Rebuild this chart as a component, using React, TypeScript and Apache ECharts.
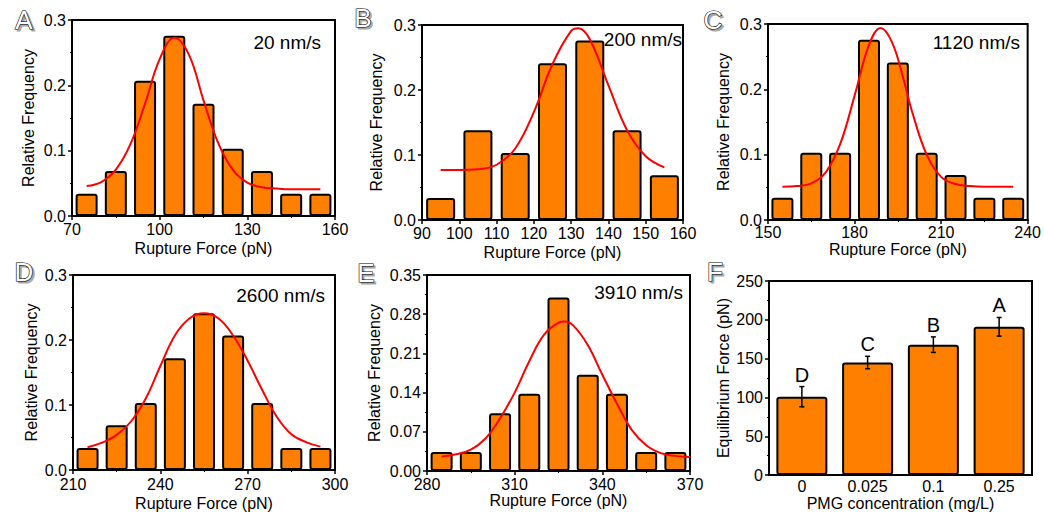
import React, { useEffect, useRef } from "react";
import * as echarts from "echarts";

const FONT = "'Liberation Sans', Arial, Helvetica, sans-serif";

// Panel A – 20 nm/s
const binsA = [75, 85, 95, 105, 115, 125, 135, 145, 155];
const freqA = [0.034, 0.069, 0.207, 0.276, 0.172, 0.103, 0.069, 0.034, 0.034];
const fitXA = [75, 80, 85, 90, 95, 100, 105, 110, 115, 120, 125, 130, 135, 140, 145, 150, 155];
const fitYA = [0.046, 0.052, 0.071, 0.11, 0.172, 0.24, 0.273, 0.247, 0.177, 0.112, 0.071, 0.051, 0.044, 0.042, 0.041, 0.041, 0.041];

// Panel B – 200 nm/s
const binsB = [95, 105, 115, 125, 135, 145, 155];
const freqB = [0.034, 0.138, 0.103, 0.241, 0.276, 0.138, 0.069];
const fitXB = [95, 100, 105, 110, 115, 120, 125, 130, 132, 135, 140, 145, 150, 155];
const fitYB = [0.077, 0.077, 0.078, 0.085, 0.11, 0.166, 0.24, 0.291, 0.295, 0.278, 0.207, 0.138, 0.098, 0.081];

// Panel C – 1120 nm/s
const binsC = [155, 165, 175, 185, 195, 205, 215, 225, 235];
const freqC = [0.034, 0.103, 0.103, 0.276, 0.241, 0.103, 0.069, 0.034, 0.034];
const fitXC = [155, 160, 165, 170, 175, 180, 185, 189, 193, 197, 200, 205, 210, 215, 220, 225, 230, 235];
const fitYC = [0.051, 0.052, 0.056, 0.073, 0.116, 0.19, 0.268, 0.294, 0.272, 0.215, 0.165, 0.1, 0.066, 0.055, 0.052, 0.051, 0.051, 0.051];

// Panel D – 2600 nm/s
const binsD = [215, 225, 235, 245, 255, 265, 275, 285, 295];
const freqD = [0.034, 0.069, 0.103, 0.172, 0.241, 0.207, 0.103, 0.034, 0.034];
const fitXD = [215, 220, 225, 230, 235, 240, 245, 250, 255, 260, 265, 270, 275, 280, 285, 290, 295];
const fitYD = [0.035, 0.042, 0.054, 0.075, 0.11, 0.16, 0.207, 0.233, 0.241, 0.233, 0.207, 0.168, 0.123, 0.082, 0.055, 0.043, 0.036];

// Panel E – 3910 nm/s
const binsE = [285, 295, 305, 315, 325, 335, 345, 355, 365];
const freqE = [0.034, 0.034, 0.103, 0.138, 0.31, 0.172, 0.138, 0.034, 0.034];
const fitXE = [285, 290, 295, 300, 305, 310, 315, 320, 325, 327, 330, 335, 340, 345, 350, 355, 360, 365, 370];
const fitYE = [0.026, 0.03, 0.038, 0.058, 0.094, 0.14, 0.196, 0.243, 0.265, 0.267, 0.26, 0.225, 0.172, 0.12, 0.074, 0.046, 0.032, 0.027, 0.025];

// Panel F – equilibrium force
const concLabels = ["0", "0.025", "0.1", "0.25"];
const eqForce = [101, 145, 168, 191];
const eqErr = [13, 8, 10, 12];
const sigLetters = ["D", "C", "B", "A"];

const panels = [
  { grid: { left: 72, top: 20, width: 263, height: 196 }, min: 70, max: 160, step: 30, yMax: 0.3, yStep: 0.1, dec: 1,
    bins: binsA, freq: freqA, fx: fitXA, fy: fitYA, bw: 22, lm: 5, ng: 24, yng: 36, minorX: true },
  { grid: { left: 422, top: 25, width: 261, height: 195 }, min: 90, max: 160, step: 10, yMax: 0.3, yStep: 0.1, dec: 1,
    bins: binsB, freq: freqB, fx: fitXB, fy: fitYB, bw: 29, lm: 5, ng: 24, yng: 38, minorX: false },
  { grid: { left: 768, top: 24, width: 263, height: 196 }, min: 150, max: 240, step: 30, yMax: 0.3, yStep: 0.1, dec: 1,
    bins: binsC, freq: freqC, fx: fitXC, fy: fitYC, bw: 22, lm: 4, ng: 21, yng: 37, minorX: true },
  { grid: { left: 73, top: 275, width: 262, height: 196 }, min: 210, max: 300, step: 30, yMax: 0.3, yStep: 0.1, dec: 1,
    bins: binsD, freq: freqD, fx: fitXD, fy: fitYD, bw: 22, lm: 6, ng: 25, yng: 34, minorX: true },
  { grid: { left: 427, top: 275, width: 263, height: 196 }, min: 280, max: 370, step: 30, yMax: 0.35, yStep: 0.07, dec: 2,
    bins: binsE, freq: freqE, fx: fitXE, fy: fitYE, bw: 22, lm: 5, ng: 13, yng: 45, minorX: true },
];

const panelLetters = [
  { t: "A", x: 24, y: 20 },
  { t: "B", x: 363, y: 18 },
  { t: "C", x: 713, y: 20 },
  { t: "D", x: 24, y: 272 },
  { t: "E", x: 366, y: 273 },
  { t: "F", x: 715, y: 272 },
];

const speedLabels = [
  { t: "20 nm/s", x: 321, y: 42 },
  { t: "200 nm/s", x: 682, y: 39 },
  { t: "1120 nm/s", x: 1020, y: 42 },
  { t: "2600 nm/s", x: 325, y: 295 },
  { t: "3910 nm/s", x: 683, y: 292 },
];

const axisLine = { show: true, lineStyle: { color: "#000", width: 2 } };
const tickStyle = { show: true, length: 4, lineStyle: { color: "#000", width: 1.5 } };
const minorStyle = { show: true, splitNumber: 2, length: 2, lineStyle: { color: "#000", width: 1 } };
const FS = 16;

export default function App() {
  const ref = useRef<HTMLDivElement>(null);

  useEffect(() => {
    if (!ref.current) return;
    const chart = echarts.init(ref.current, undefined, { renderer: "svg" });

    const grids: any[] = [];
    const xAxes: any[] = [];
    const yAxes: any[] = [];
    const series: any[] = [];

    panels.forEach((p, i) => {
      grids.push({ ...p.grid, show: true, borderColor: "#000", borderWidth: 2, backgroundColor: "transparent" });
      xAxes.push({
        type: "value", gridIndex: i, min: p.min, max: p.max, interval: p.step,
        name: "Rupture Force (pN)", nameLocation: "middle", nameGap: p.ng,
        nameTextStyle: { fontFamily: FONT, fontSize: FS, color: "#000" },
        axisLine, axisTick: tickStyle, minorTick: { ...minorStyle, show: p.minorX },
        splitLine: { show: false },
        axisLabel: { fontFamily: FONT, fontSize: FS, color: "#000", margin: p.lm },
      });
      yAxes.push({
        type: "value", gridIndex: i, min: 0, max: p.yMax, interval: p.yStep,
        name: "Relative Frequency", nameLocation: "middle", nameGap: p.yng,
        nameTextStyle: { fontFamily: FONT, fontSize: FS, color: "#000" },
        axisLine, axisTick: tickStyle, minorTick: minorStyle,
        splitLine: { show: false },
        axisLabel: { fontFamily: FONT, fontSize: FS, color: "#000", margin: 6,
          formatter: (v: number) => v.toFixed(p.dec) },
      });
      series.push({
        type: "bar", xAxisIndex: i, yAxisIndex: i, barWidth: p.bw,
        data: p.bins.map((x, j) => [x, p.freq[j]]),
        itemStyle: { color: "#FF8000", borderColor: "#000", borderWidth: 2, borderRadius: 2 },
        z: 2,
      });
      series.push({
        type: "line", xAxisIndex: i, yAxisIndex: i, smooth: 0.4, showSymbol: false, symbol: "none",
        data: p.fx.map((x, j) => [x, p.fy[j]]),
        lineStyle: { color: "#FF0000", width: 2 },
        z: 3,
      });
    });

    // Panel F
    const fi = panels.length;
    grids.push({ left: 769, top: 281, width: 263, height: 196, show: true, borderColor: "#000", borderWidth: 2 });
    xAxes.push({
      type: "category", gridIndex: fi, data: concLabels,
      name: "PMG concentration (mg/L)", nameLocation: "middle", nameGap: 18,
      nameTextStyle: { fontFamily: FONT, fontSize: FS, color: "#000" },
      axisLine, axisTick: { show: false },
      axisLabel: { fontFamily: FONT, fontSize: FS, color: "#000", margin: 3 },
    });
    yAxes.push({
      type: "value", gridIndex: fi, min: 0, max: 250, interval: 50,
      name: "Equilibrium Force (pN)", nameLocation: "middle", nameGap: 38,
      nameTextStyle: { fontFamily: FONT, fontSize: FS, color: "#000" },
      axisLine, axisTick: tickStyle, minorTick: minorStyle,
      splitLine: { show: false },
      axisLabel: { fontFamily: FONT, fontSize: FS, color: "#000", margin: 6 },
    });
    series.push({
      type: "bar", xAxisIndex: fi, yAxisIndex: fi, barWidth: 51,
      data: eqForce,
      itemStyle: { color: "#FF8000", borderColor: "#000", borderWidth: 2, borderRadius: 2 },
    });
    series.push({
      type: "custom", xAxisIndex: fi, yAxisIndex: fi, z: 5,
      data: eqForce.map((v, j) => [j, v, eqErr[j]]),
      renderItem: (params: any, api: any) => {
        const idx = api.value(0);
        const v = api.value(1);
        const e = api.value(2);
        const top = api.coord([idx, v + e]);
        const bot = api.coord([idx, v - e]);
        const x = top[0];
        const cap = 2.5;
        const ls = { stroke: "#000", lineWidth: 1.5 };
        return {
          type: "group",
          children: [
            { type: "line", shape: { x1: x, y1: top[1], x2: x, y2: bot[1] }, style: ls },
            { type: "line", shape: { x1: x - cap, y1: top[1], x2: x + cap, y2: top[1] }, style: ls },
            { type: "line", shape: { x1: x - cap, y1: bot[1], x2: x + cap, y2: bot[1] }, style: ls },
            { type: "text", x: x, y: top[1] - 2,
              style: { text: sigLetters[params.dataIndex], font: `20px ${FONT}`, fill: "#000",
                textAlign: "center", align: "center", textVerticalAlign: "bottom", verticalAlign: "bottom" } },
          ],
        };
      },
    });

    const graphic: any[] = [];
    panelLetters.forEach((l) => {
      graphic.push({ type: "text", x: l.x + 2, y: l.y + 2, silent: true,
        style: { text: l.t, font: `26px ${FONT}`, fill: "#a8a8a8", stroke: "#a8a8a8", lineWidth: 1.2,
          textAlign: "center", align: "center", textVerticalAlign: "middle", verticalAlign: "middle" } });
      graphic.push({ type: "text", x: l.x, y: l.y, silent: true,
        style: { text: l.t, font: `26px ${FONT}`, fill: "#ffffff", stroke: "#000", lineWidth: 1.2,
          textAlign: "center", align: "center", textVerticalAlign: "middle", verticalAlign: "middle" } });
    });
    speedLabels.forEach((s) => {
      graphic.push({ type: "text", x: s.x, y: s.y, silent: true, z: 10,
        style: { text: s.t, font: `19px ${FONT}`, fill: "#000",
          textAlign: "right", align: "right", textVerticalAlign: "middle", verticalAlign: "middle" } });
    });

    chart.setOption({
      animation: false,
      backgroundColor: "#fff",
      grid: grids,
      xAxis: xAxes,
      yAxis: yAxes,
      series,
      graphic,
    });

    return () => chart.dispose();
  }, []);

  return <div ref={ref} style={{ position: "absolute", left: 0, top: 0, width: 1044, height: 512 }} />;
}
